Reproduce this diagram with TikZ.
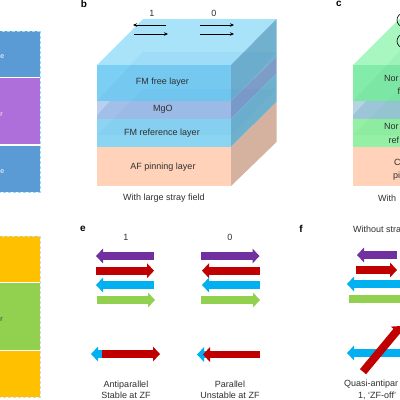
\documentclass[tikz,border=0pt]{standalone}
\usepackage{fontspec}
\setmainfont{Liberation Sans}
\usetikzlibrary{arrows.meta, calc}
\definecolor{viola}{HTML}{7030A0}
\definecolor{rosso}{HTML}{C00000}
\definecolor{azzurro}{HTML}{00B0F0}
\definecolor{verde}{HTML}{92D050}
\definecolor{testo}{HTML}{303030}
\definecolor{bluA}{HTML}{5B9BD5}
\definecolor{lilla}{HTML}{AF6FDB}
\definecolor{giallo}{HTML}{FFC000}
\definecolor{pesca}{HTML}{FFD2B9}
\definecolor{pescascuro}{HTML}{D5B29F}

\begin{document}
\begin{tikzpicture}[
  x=1pt, y=-1pt,
  font=\fontsize{9}{11}\selectfont, text=testo,
  blocco/.style={draw=white, densely dashed, line width=1pt},
  lettera/.style={font=\fontsize{10}{12}\selectfont\bfseries, text=black},
  etichetta/.style={align=center, inner sep=0pt},
  frammento/.style={anchor=west, inner sep=0pt, font=\fontsize{7}{9}\selectfont},
  frecciola/.style={draw=black, line width=0.7pt, -{Stealth[length=4pt,width=3.5pt]}},
  freccia/.style={line width=7.6pt, -{Triangle[length=7pt,width=14.5pt]}}
]
\clip (0,0) rectangle (400,400);
\fill[white] (0,0) rectangle (400,400);

% a
\fill[bluA] (-2,31) rectangle (40,77);
\fill[lilla] (-2,78) rectangle (40,144);
\fill[bluA] (-2,146) rectangle (40,192);
\draw[blocco] (-2,77.5) -- (40,77.5);
\draw[blocco] (-2,145) -- (40,145);
\draw[blocco, draw=cyan!40] (40,31) -- (-2,31) (40,31) -- (40,192) -- (-2,192);
\node[frammento, text=white] (etA) at (0.2,57) {e};
\node[frammento, text=white] (etB) at (0.2,115) {r};
\node[frammento, text=white] (etC) at (0.2,172) {e};

% d
\fill[giallo] (-2,236) rectangle (40,282);
\fill[verde] (-2,283) rectangle (40,350);
\fill[giallo] (-2,351) rectangle (40,397);
\draw[blocco] (-2,282.5) -- (40,282.5);
\draw[blocco] (-2,350) -- (40,350);
\draw[blocco, draw=white!85!black] (40,236) -- (-2,236) (40,236) -- (40,397) -- (-2,397);
\node[frammento] (etD) at (0.2,320) {r};

% b e c
\foreach \dx/\alto/\libero/\ossido/\rif/\tinta in {
  0/A9E3FA/7CCFF4/A2BFE8/8BD5F2/2080D0,
  256/A8F7C0/84ECAA/9CC6D8/94F0A4/20B060} {
  \begin{scope}[shift={(\dx,0)}]
    \definecolor{calto}{HTML}{\alto}
    \definecolor{clibero}{HTML}{\libero}
    \definecolor{cossido}{HTML}{\ossido}
    \definecolor{crif}{HTML}{\rif}
    \definecolor{ctinta}{HTML}{\tinta}
    \fill[calto] (97,65) -- (143,19) -- (276.5,19) -- (231,65) -- cycle;
    \fill[clibero] (97,65) rectangle (231,101);
    \fill[cossido] (97,101) rectangle (231,119);
    \fill[crif] (97,119) rectangle (231,147);
    \fill[pesca] (97,147) rectangle (231,186);
    \fill[fill={rgb,255:red,114;green,177;blue,206}] (231,65) -- (276.5,19) -- (276.5,57) -- (231,101) -- cycle;
    \fill[fill={rgb,255:red,126;green,156;blue,200}] (231,101) -- (276.5,57) -- (276.5,73) -- (231,119) -- cycle;
    \fill[fill={rgb,255:red,111;green,176;blue,204}] (231,119) -- (276.5,73) -- (276.5,102) -- (231,147) -- cycle;
    \fill[pescascuro] (231,147) -- (276.5,102) -- (276.5,142) -- (231,186) -- cycle;
    % piani interni
    \fill[ctinta, opacity=0.07] (97,101) -- (231,101) -- (276.5,52) -- (143,52) -- cycle;
    \fill[ctinta, opacity=0.05] (97,135) -- (231,135) -- (276.5,89) -- (143,89) -- cycle;
    \fill[white, opacity=0.25] (97,101) -- (97,115) -- (110,101) -- cycle;
  \end{scope}
}

% testi b
\node[lettera] (lb) at (84,4) {b};
\node[etichetta] (uno) at (152,13) {1};
\node[etichetta] (zero) at (214,13) {0};
\node[etichetta] (libero) at (162.5,82) {FM free layer};
\node[etichetta] (ossido) at (163,109) {MgO};
\node[etichetta] (riferimento) at (162,133) {FM reference layer};
\node[etichetta] (pinning) at (163,167) {AF pinning layer};
\node[etichetta] (campo) at (164,198) {With large stray field};
\coordinate (uA) at (166,25);
\coordinate (uB) at (133,25);
\coordinate (uC) at (134,34);
\coordinate (uD) at (168,34);
\coordinate (zA) at (200,25);
\coordinate (zB) at (234,25);
\coordinate (zC) at (200,34);
\coordinate (zD) at (234,34);
\draw[frecciola] (uA) -- (uB);
\draw[frecciola] (uC) -- (uD);
\draw[frecciola] (zA) -- (zB);
\draw[frecciola] (zC) -- (zD);

% testi c
\node[lettera] (lc) at (339,4) {c};
\draw[line width=0.6pt] (404,20) circle (7);
\draw[line width=0.6pt] (404,41) circle (7);
\node[etichetta, anchor=west] (cA) at (384,78) {Nor};
\node[etichetta, anchor=west] (cB) at (397.5,91) {f};
\node[etichetta, anchor=west] (cC) at (384,126) {Nor};
\node[etichetta, anchor=west] (cD) at (388.5,140) {ref};
\node[etichetta, anchor=west] (cE) at (394,162) {C};
\node[etichetta, anchor=west] (cF) at (393,176) {pi};
\node[etichetta, anchor=west] (cG) at (378,198) {With};

% e
\node[lettera] (le) at (83,229) {e};
\node[etichetta] (eUno) at (126,237) {1};
\draw[freccia, viola] (154,256) -- (96,256);
\draw[freccia, rosso] (96,270.7) -- (154,270.7);
\draw[freccia, azzurro] (154,285) -- (96,285);
\draw[freccia, verde] (97,300) -- (155,300);
\draw[freccia, azzurro] (150,354) -- (91,354);
\draw[freccia, rosso] (102,354) -- (160,354);
\node[etichetta] (eA) at (126,389.5) {Antiparallel\\Stable at ZF};

\node[etichetta] (eZero) at (230,237) {0};
\draw[freccia, viola] (201,256) -- (259.5,256);
\draw[freccia, rosso] (260,270.7) -- (202,270.7);
\draw[freccia, azzurro] (260,285) -- (202,285);
\draw[freccia, verde] (201,300) -- (260,300);
\draw[freccia, azzurro] (250,354.5) -- (197,354.5);
\draw[freccia, rosso] (260,354.5) -- (203,354.5);
\node[etichetta] (eB) at (230,389.5) {Parallel\\Unstable at ZF};

% f
\node[lettera] (lf) at (301,229) {f};
\node[etichetta, anchor=west] (fA) at (353,229) {Without stra};
\draw[freccia, viola] (397,255) -- (357,255);
\draw[freccia, rosso] (356,270) -- (397,270);
\draw[freccia, azzurro] (420,284) -- (347,284);
\draw[freccia, verde] (349,299) -- (408,299);
\draw[freccia, azzurro] (420,353) -- (347,353);
\draw[freccia, rosso, line width=8pt] (363,371.7) -- (401,326);
\node[etichetta, anchor=west] (fB) at (344,384) {Quasi-antipar};
\node[etichetta, anchor=west] (fC) at (358,396) {1, ‘ZF-off’};
\end{tikzpicture}
\end{document}
